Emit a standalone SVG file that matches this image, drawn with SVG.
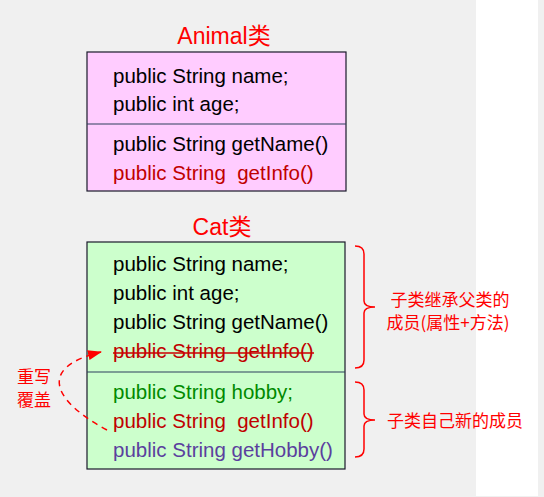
<svg xmlns="http://www.w3.org/2000/svg" width="544" height="497" viewBox="0 0 544 497">
<style>
.t{font-family:"Liberation Sans","Noto Sans CJK SC",Arial,sans-serif;font-size:20.5px;fill:#000}
.title{font-family:"Liberation Sans","Noto Sans CJK SC",sans-serif;font-size:23px;fill:#ff0000;text-anchor:middle}
.cn{font-family:"Noto Sans CJK SC",sans-serif;font-size:17px;fill:#ff0000}
.dk{fill:#c00000}
.gr{fill:#008a00}
.pu{fill:#5b3f9e}
.box{stroke:#1a1a2a;stroke-width:1.2}
.div{stroke:#2c3e5c;stroke-width:1.2}
.red{stroke:#ff0000;fill:none;stroke-width:1.5}
</style>
<defs>
<marker id="ah" viewBox="0 0 14 10" refX="13" refY="5" markerWidth="14" markerHeight="10" markerUnits="userSpaceOnUse" orient="auto">
<path d="M0,0 L14,5 L0,10 z" fill="#ff0000"/>
</marker>
</defs>
<rect width="544" height="497" fill="#f0f0f0"/>
<rect x="476" y="0" width="62" height="496" fill="#ffffff"/>
<g id="animal">
<text class="title" x="224" y="44">Animal类</text>
<rect class="box" x="87" y="52" width="259" height="139" fill="#ffccff"/>
<line class="div" x1="87" y1="124" x2="346" y2="124"/>
<text class="t" x="113" y="83">public String name;</text>
<text class="t" x="113" y="111">public int age;</text>
<text class="t" x="113" y="151">public String getName()</text>
<text class="t dk" x="113" y="180" xml:space="preserve">public String  getInfo()</text>
</g>
<g id="cat">
<text class="title" x="222" y="235">Cat类</text>
<rect class="box" x="87" y="242" width="258" height="227" fill="#ccffcc"/>
<line class="div" x1="87" y1="372" x2="345" y2="372"/>
<text class="t" x="113" y="271">public String name;</text>
<text class="t" x="113" y="300">public int age;</text>
<text class="t" x="113" y="329">public String getName()</text>
<text class="t dk" x="113" y="358" xml:space="preserve">public String  getInfo()</text>
<line x1="113" y1="353" x2="314" y2="353" stroke="#cc0000" stroke-width="1.5"/>
<text class="t gr" x="113" y="399">public String hobby;</text>
<text class="t dk" x="113" y="428" xml:space="preserve">public String  getInfo()</text>
<text class="t pu" x="113" y="457">public String getHobby()</text>
</g>
<g id="brace1">
<path class="red" d="M355,246 Q364,246 364,254 L364,301 Q364,307 375,307 Q364,307 364,313 L364,360 Q364,368 355,368"/>
<text class="cn" x="450" y="306" text-anchor="middle">子类继承父类的</text>
<text class="cn" x="448" y="329" text-anchor="middle">成员(属性+方法)</text>
</g>
<g id="brace2">
<path class="red" d="M355,382 Q364,382 364,390 L364,414 Q364,420 375,420 Q364,420 364,426 L364,449 Q364,457 355,457"/>
<text class="cn" x="387" y="427">子类自己新的成员</text>
</g>
<g id="override">
<text class="cn" x="17" y="383">重写</text>
<text class="cn" x="17" y="406">覆盖</text>
</g>
<g id="connectors">
<path class="red" stroke-dasharray="6,5" d="M107,430 C55,402 35,368 101,352" marker-end="url(#ah)"/>
</g>
</svg>
